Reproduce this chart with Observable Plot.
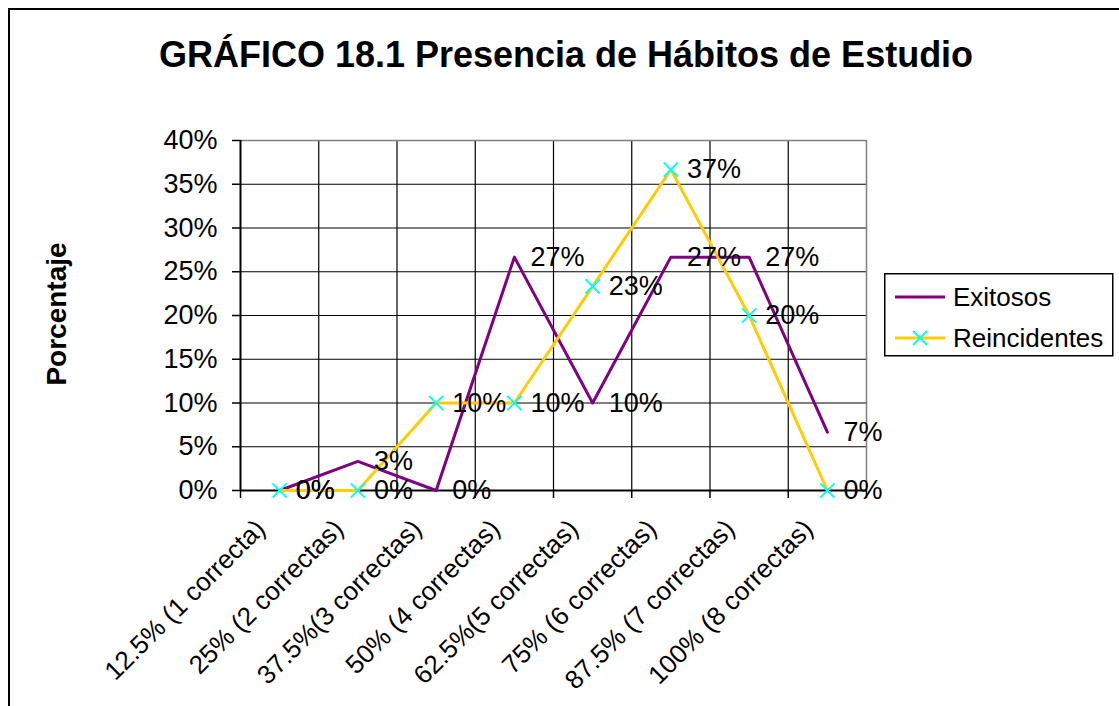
<!DOCTYPE html>
<html><head><meta charset="utf-8">
<script src="https://cdn.jsdelivr.net/npm/d3@7"></script>
<script src="https://cdn.jsdelivr.net/npm/@observablehq/plot@0.6"></script>
<style>
html,body{margin:0;padding:0;overflow:hidden;background:#fff;}
#wrap{position:relative;width:1119px;height:706px;overflow:hidden;font-family:"Liberation Sans",Arial,sans-serif;color:#000;}
#frame{position:absolute;left:8px;top:8px;width:1300px;height:900px;border:2px solid #000;box-sizing:border-box;}
#chart{position:absolute;left:0;top:0;}
#title{position:absolute;left:0;top:35px;width:1132px;text-align:center;font-weight:bold;font-size:36px;line-height:40px;white-space:nowrap;}
#ylab{position:absolute;left:57px;top:314px;transform:translate(-50%,-50%) rotate(-90deg);font-weight:bold;font-size:28px;white-space:nowrap;}
#legend{position:absolute;left:884px;top:273px;}
</style></head><body>
<div id="wrap">
  <div id="frame"></div>
  <div id="chart"></div>
  <div id="title">GRÁFICO 18.1 Presencia de Hábitos de Estudio</div>
  <div id="ylab">Porcentaje</div>
  <div id="legend"></div>
</div>
<script>
// ---- data ----
const categories = ["12.5% (1 correcta)", "25% (2 correctas)", "37.5%(3 correctas)", "50% (4 correctas)",
                    "62.5%(5 correctas)", "75% (6 correctas)", "87.5% (7 correctas)", "100% (8 correctas)"];
const exitosos = [0, 3.33, 0, 26.67, 10, 26.67, 26.67, 6.67];
const reincidentes = [0, 0, 10, 10, 23.33, 36.67, 20, 0];
const seriesNames = ["Exitosos", "Reincidentes"];
const seriesColors = ["#800080", "#FFCC00"];
const markerColor = "#00FFFF";
const yTicks = [0, 5, 10, 15, 20, 25, 30, 35, 40];

// ---- tables ----
const rowsE = categories.map((c, i) => ({pos: i + 0.5, value: exitosos[i], series: seriesNames[0]}));
const rowsR = categories.map((c, i) => ({pos: i + 0.5, value: reincidentes[i], series: seriesNames[1]}));
const centers = categories.map((c, i) => i + 0.5);
const bounds = d3.range(categories.length + 1);
const fmt = v => Math.round(v) + "%";

const chart = Plot.plot({
  width: 1119, height: 706,
  marginLeft: 240, marginRight: 253, marginTop: 140, marginBottom: 216,
  x: {type: "linear", domain: [0, categories.length]},
  y: {type: "linear", domain: [0, 40]},
  style: {fontFamily: '"Liberation Sans", Arial, sans-serif', fontSize: "27px", color: "black", background: "transparent", overflow: "visible"},
  marks: [
    Plot.gridY(yTicks.filter(t => t > 0 && t < 40), {stroke: "black", strokeOpacity: 1, strokeWidth: 1.2}),
    Plot.gridX(bounds.filter(b => b > 0 && b < categories.length), {stroke: "black", strokeOpacity: 1, strokeWidth: 1.2}),
    Plot.ruleY([40], {stroke: "#808080", strokeWidth: 1.5}),
    Plot.ruleX([categories.length], {stroke: "#808080", strokeWidth: 1.5}),
    Plot.axisY(yTicks, {tickSize: 8, tickPadding: 15, tickFormat: d => d + "%", label: null, stroke: "black", strokeWidth: 1.5}),
    Plot.axisX(bounds, {tickSize: 8, tickFormat: () => "", label: null, stroke: "black", strokeWidth: 1.5}),
    Plot.axisX(centers, {tickSize: 0, tickPadding: 34, tickRotate: -45, textAnchor: "end", lineAnchor: "middle", dx: -19,
      fontSize: 26, tickFormat: d => categories[Math.floor(d)], label: null}),
    Plot.ruleY([0], {stroke: "black", strokeWidth: 2}),
    Plot.ruleX([0], {stroke: "black", strokeWidth: 2}),
    Plot.line(rowsE, {x: "pos", y: "value", stroke: seriesColors[0], strokeWidth: 3}),
    Plot.line(rowsR, {x: "pos", y: "value", stroke: seriesColors[1], strokeWidth: 3}),
    Plot.dot(rowsR, {x: "pos", y: "value", symbol: "times", r: 6.5, stroke: markerColor, strokeWidth: 2}),
    Plot.text(rowsE, {x: "pos", y: "value", text: d => fmt(d.value), dx: 16, textAnchor: "start", fill: "black"}),
    Plot.text(rowsR, {x: "pos", y: "value", text: d => fmt(d.value), dx: 16, textAnchor: "start", fill: "black"})
  ]
});
document.getElementById("chart").appendChild(chart);

// ---- legend ----
const lg = d3.select("#legend").append("svg").attr("width", 232).attr("height", 86)
  .style("font-family", '"Liberation Sans", Arial, sans-serif').style("font-size", "26px");
lg.append("rect").attr("x", 0.75).attr("y", 0.75).attr("width", 228).attr("height", 82)
  .attr("fill", "white").attr("stroke", "black").attr("stroke-width", 1.5);
seriesNames.forEach((name, i) => {
  const y = i === 0 ? 24 : 65;
  lg.append("line").attr("x1", 11).attr("x2", 61).attr("y1", y).attr("y2", y)
    .attr("stroke", seriesColors[i]).attr("stroke-width", 3);
  if (i === 1) {
    const s = 7;
    lg.append("path").attr("d", `M${36 - s},${y - s}L${36 + s},${y + s}M${36 - s},${y + s}L${36 + s},${y - s}`)
      .attr("stroke", markerColor).attr("stroke-width", 2);
  }
  lg.append("text").attr("x", 69).attr("y", y + 9).text(name);
});
</script>
</body></html>
